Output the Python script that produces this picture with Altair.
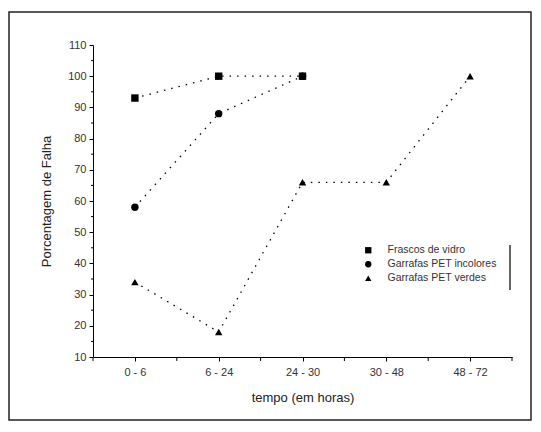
import altair as alt
import pandas as pd

categories = ["0 - 6", "6 - 24", "24 - 30", "30 - 48", "48 - 72"]
series_names = ["Frascos de vidro", "Garrafas PET incolores", "Garrafas PET verdes"]
vidro = [93, 100, 100]
incolores = [58, 88, 100]
verdes = [34, 18, 66, 66, 100]
minor_x_ticks = [-0.5, 0.5, 1.5, 2.5, 3.5, 4.5]
minor_y_ticks = [15, 25, 35, 45, 55, 65, 75, 85, 95, 105]

rows = []
for name, vals in zip(series_names, [vidro, incolores, verdes]):
    for i, v in enumerate(vals):
        rows.append({"serie": name, "idx": i, "valor": v})
df = pd.DataFrame(rows)

label_array = "[" + ",".join("'" + c + "'" for c in categories) + "]"
FONT = "Liberation Sans"

xscale = alt.Scale(domain=[-0.5, 4.5], nice=False, zero=False)
yscale = alt.Scale(domain=[10, 110], nice=False, zero=False)

x_axis = alt.Axis(values=list(range(len(categories))),
                  labelExpr=label_array + "[datum.value]",
                  grid=False, tickSize=4, labelPadding=5,
                  titlePadding=14, labelFontSize=11, titleFontSize=13,
                  labelFont=FONT, titleFont=FONT, labelOverlap=False,
                  domainColor="black", tickColor="black",
                  labelColor="#333", titleColor="#222", titleFontWeight="normal")
y_axis = alt.Axis(values=list(range(10, 111, 10)), grid=False,
                  tickSize=4, labelPadding=3, titlePadding=14,
                  labelFontSize=11, titleFontSize=13, labelOverlap=False,
                  labelFont=FONT, titleFont=FONT,
                  domainColor="black", tickColor="black",
                  labelColor="#333", titleColor="#222", titleFontWeight="normal")

x_main = alt.X("idx:Q", scale=xscale, title="tempo (em horas)", axis=x_axis)
y_main = alt.Y("valor:Q", scale=yscale, title="Porcentagem de Falha", axis=y_axis)

shape_scale = alt.Scale(domain=series_names, range=["square", "circle", "triangle-up"])

lines = alt.Chart(df).mark_line(color="black", strokeWidth=1.3, strokeDash=[1.5, 6]).encode(
    x=x_main, y=y_main, detail="serie:N")

points = alt.Chart(df).mark_point(filled=True, color="black", size=55, opacity=1).encode(
    x=x_main, y=y_main,
    shape=alt.Shape("serie:N", scale=shape_scale, title=None,
                    legend=alt.Legend(orient="none", legendX=270, legendY=200,
                                      labelFont=FONT, labelFontSize=10.5, labelColor="#333",
                                      symbolFillColor="black", symbolStrokeColor="black",
                                      symbolSize=40, rowPadding=1, labelOffset=14)))

# minor ticks drawn through the scales
minor_x = alt.Chart(pd.DataFrame({"idx": minor_x_ticks})).mark_rule(color="black").encode(
    x=x_main, y=alt.value(312), y2=alt.value(316))
minor_y = alt.Chart(pd.DataFrame({"valor": minor_y_ticks})).mark_rule(color="black").encode(
    y=y_main, x=alt.value(0), x2=alt.value(-2))

legend_bar = alt.Chart(pd.DataFrame({"a": [0]})).mark_rule(color="#333", strokeWidth=1.5).encode(
    x=alt.value(417), y=alt.value(200), y2=alt.value(245))

frame = alt.Chart(pd.DataFrame({"a": [0]})).mark_rect(fill="transparent", stroke="#222", strokeWidth=1.5, clip=False).encode(
    x=alt.value(-84), x2=alt.value(438), y=alt.value(-33), y2=alt.value(375))

chart = alt.layer(lines, points, minor_x, minor_y, legend_bar, frame).properties(
    width=419, height=312,
    background="white",
    autosize=alt.AutoSizeParams(type="none"),
    padding={"left": 85, "top": 37, "right": 20, "bottom": 64},
).configure_view(stroke="transparent", strokeWidth=0)

chart.save("out.html", embed_options={"renderer": "svg", "actions": False})
